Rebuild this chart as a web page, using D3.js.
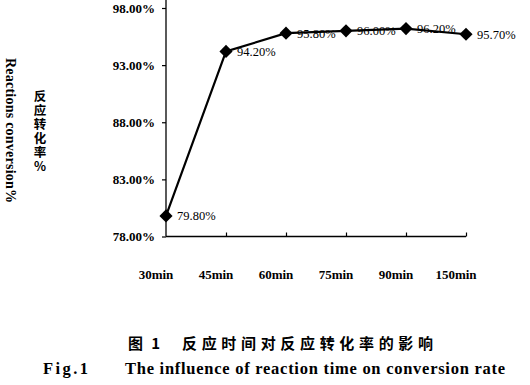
<!DOCTYPE html>
<html><head><meta charset="utf-8">
<script src="https://cdn.jsdelivr.net/npm/d3@7"></script>
<style>body{margin:0;background:#fff}svg{display:block}</style>
</head><body>
<script>
const categories = ["30min","45min","60min","75min","90min","150min"];
const conversion = [79.80, 94.20, 95.80, 96.00, 96.20, 95.70];
const yTicks = [78, 83, 88, 93, 98];

const W = 530, H = 385;
const svg = d3.select("body").append("svg").attr("width", W).attr("height", H);
const serif = "'Liberation Serif','Times New Roman',serif";
const cjk = "'Noto Sans CJK SC',sans-serif";

const x = d3.scalePoint().domain(categories).range([166, 466]).padding(0);
const y = d3.scaleLinear().domain([78, 98]).range([236.5, 8]);

// y axis
const yAxis = d3.axisLeft(y).tickValues(yTicks).tickSize(4).tickFormat(d => d.toFixed(2) + "%");
const gy = svg.append("g").attr("transform", "translate(166,0)").call(yAxis);
gy.select(".domain").attr("d", "M0,0V236.5").attr("stroke", "#000").attr("stroke-width", 1.3);
gy.selectAll(".tick line").attr("stroke", "#000").attr("stroke-width", 1.2);
gy.selectAll(".tick text").attr("x", -11).attr("font-family", serif).attr("font-weight", "bold")
  .attr("font-size", 13).attr("fill", "#000");

// x axis
const xAxis = d3.axisBottom(x).tickSize(-4).tickFormat("");
const gx = svg.append("g").attr("transform", "translate(0,236.5)").call(xAxis);
gx.select(".domain").attr("d", "M166,0H466").attr("stroke", "#000").attr("stroke-width", 1.3);
gx.selectAll(".tick line").attr("stroke", "#000").attr("stroke-width", 1.2);
gx.selectAll(".tick").filter((d,i) => i === 0).select("line").remove();

svg.append("g").selectAll("text").data(categories).join("text")
  .attr("x", d => x(d) - 10).attr("y", 279).attr("text-anchor", "middle")
  .attr("font-family", serif).attr("font-weight", "bold").attr("font-size", 13).attr("fill", "#000")
  .text(d => d);

// line
const pts = categories.map((c, i) => [x(c), y(conversion[i])]);
svg.append("path").attr("d", d3.line()(pts)).attr("fill", "none").attr("stroke", "#000").attr("stroke-width", 2.2);

svg.append("g").selectAll("path").data(pts).join("path")
  .attr("transform", d => `translate(${d[0]},${d[1]})`)
  .attr("d", d3.symbol(d3.symbolDiamond2, 110)()).attr("fill", "#000");

svg.append("g").selectAll("text").data(conversion).join("text")
  .attr("x", (d, i) => x(categories[i]) + 11).attr("y", d => y(d) + 4.5)
  .attr("font-family", serif).attr("font-size", 12.5).attr("fill", "#000")
  .text(d => d.toFixed(2) + "%");

// axis titles
svg.append("text").attr("transform", "translate(6,58) rotate(90)")
  .attr("font-family", serif).attr("font-weight", "bold").attr("font-size", 14).attr("fill", "#000")
  .attr("textLength", 145).attr("lengthAdjust", "spacing")
  .text("Reactions conversion%");

svg.append("text").attr("x", 40).attr("y", 90)
  .style("writing-mode", "vertical-rl").style("text-orientation", "upright")
  .attr("font-family", cjk).attr("font-weight", "bold").attr("font-size", 12.5).attr("fill", "#000")
  .attr("letter-spacing", 1.5)
  .text("反应转化率%");

// captions
const cap1 = svg.append("g").attr("font-family", cjk).attr("font-weight", "bold").attr("fill", "#000").attr("font-size", 15);
cap1.append("text").attr("x", 128).attr("y", 349).attr("textLength", 32).attr("lengthAdjust", "spacing")
  .attr("xml:space", "preserve").text("图 1");
cap1.append("text").attr("x", 182).attr("y", 349).attr("textLength", 251).attr("lengthAdjust", "spacing")
  .text("反应时间对反应转化率的影响");

const cap2 = svg.append("g").attr("font-family", serif).attr("font-weight", "bold").attr("fill", "#000").attr("font-size", 16.5);
cap2.append("text").attr("x", 43).attr("y", 374).attr("textLength", 45).attr("lengthAdjust", "spacing")
  .text("Fig.1");
cap2.append("text").attr("x", 125).attr("y", 374).attr("textLength", 380).attr("lengthAdjust", "spacing")
  .text("The influence of reaction time on conversion rate");
</script>
</body></html>
